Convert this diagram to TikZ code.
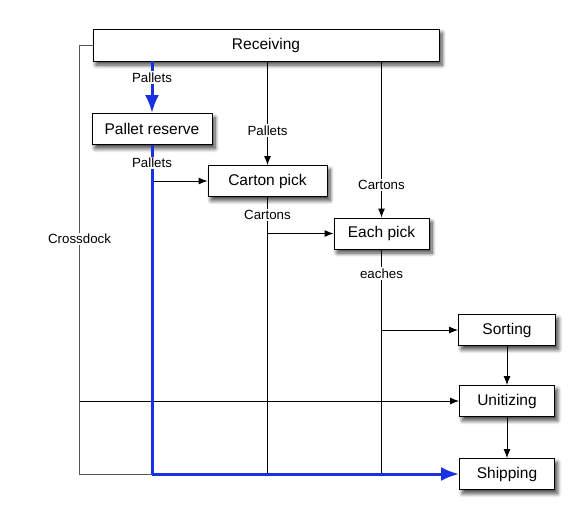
\documentclass[tikz,border=0pt]{standalone}
\usepackage{fontspec}
\setmainfont{Liberation Sans}
\usetikzlibrary{arrows.meta,shadows.blur}
\definecolor{flowblue}{RGB}{25,50,225}
\definecolor{cdgray}{RGB}{85,85,85}
\tikzset{
  box/.style={draw=black, line width=0.9pt, fill=white, inner sep=0pt, font=\fontsize{15.5}{17}\selectfont,
    blur shadow={shadow xshift=3pt, shadow yshift=-4pt, shadow blur radius=4pt, shadow blur steps=8, shadow opacity=75}},
  lbl/.style={fill=white, inner sep=1.5pt, font=\fontsize{13.3}{15}\selectfont},
  conn/.style={draw=black, line width=0.9pt},
  arr/.style={conn, -{Latex[length=9pt,width=7pt]}},
  bluel/.style={draw=flowblue, line width=3pt},
  bluearr/.style={bluel, -{Latex[length=18pt,width=14pt]}},
  cdline/.style={draw=cdgray, line width=0.9pt}
}
\begin{document}
\begin{tikzpicture}[x=1pt,y=-1pt]
\useasboundingbox (0,0) rectangle (585,512);
% nodes
\node[box, minimum width=346pt, minimum height=32pt] (rec) at (266,45) {Receiving};
\node[box, minimum width=120pt, minimum height=31pt] (pr) at (152,129) {Pallet reserve};
\node[box, minimum width=119pt, minimum height=31pt] (cp) at (267.5,181) {Carton pick};
\node[box, minimum width=95pt, minimum height=31pt] (ep) at (381.5,233.5) {Each pick};
\node[box, minimum width=97pt, minimum height=31pt] (sort) at (507,330) {Sorting};
\node[box, minimum width=95pt, minimum height=31pt] (unit) at (507,401) {Unitizing};
\node[box, minimum width=95pt, minimum height=31pt] (ship) at (507,474) {Shipping};
% crossdock
\draw[cdline] (rec.west) -- ++(-13,0) coordinate (cd)
  -- node[lbl, pos=0.452, text=black] {Crossdock} (cd |- ship.west) -- (pr.south |- ship.west);
\draw[arr] (cd |- unit.west) -- (unit.west);
% black flows
\draw[arr] (cp.north |- rec.south) -- node[lbl, pos=0.67] {Pallets} (cp.north);
\draw[arr] (ep.north |- rec.south) -- node[lbl, pos=0.79] {Cartons} (ep.north);
\draw[conn] (cp.south) -- node[lbl, pos=0.065] {Cartons} (cp.south |- ship.west);
\draw[arr] (cp.south |- ep.west) -- (ep.west);
\draw[conn] (ep.south) -- node[lbl, pos=0.107] {eaches} (ep.south |- ship.west);
\draw[arr] (ep.south |- sort.west) -- (sort.west);
\draw[arr] (sort.south) -- (unit.north);
\draw[arr] (unit.south) -- (ship.north);
\draw[arr] (pr.south |- cp.west) -- (cp.west);
% blue flows
\draw[bluearr] (pr.north |- rec.south) -- node[lbl, pos=0.31] {Pallets} (pr.north);
\draw[bluel] (pr.south) -- node[lbl, pos=0.055] {Pallets} (pr.south |- ship.west);
\draw[bluearr] (pr.south |- ship.west) -- (ship.west);
\end{tikzpicture}
\end{document}
